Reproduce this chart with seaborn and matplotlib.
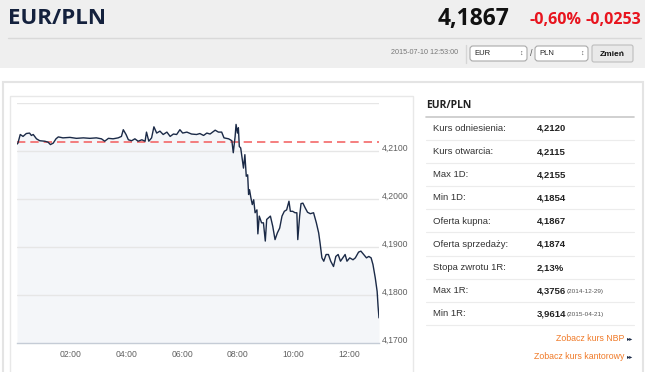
import pandas as pd
import matplotlib
matplotlib.use("Agg")
import matplotlib.pyplot as plt
import matplotlib.transforms as mtrans
from matplotlib.patches import Rectangle, FancyBboxPatch
import seaborn as sns

# intraday EUR/PLN quotes
times = ["00:04", "00:06", "00:11", "00:17", "00:24", "00:31", "00:35", "00:39", "00:46", "00:53",
         "01:04", "01:11", "01:16", "01:22", "01:28", "01:33", "01:43", "01:58", "02:12", "02:27",
         "02:41", "02:55", "03:06", "03:13", "03:21", "03:31", "03:42", "03:49", "03:53", "03:59",
         "04:04", "04:11", "04:18", "04:25", "04:33", "04:40", "04:43", "04:48", "04:54", "04:59",
         "05:05", "05:12", "05:19", "05:27", "05:34", "05:41", "05:48", "05:55", "06:01", "06:10",
         "06:20", "06:31", "06:38", "06:46", "06:53", "07:00", "07:11", "07:18", "07:25", "07:30",
         "07:40", "07:47", "07:50", "07:54", "07:56", "07:59", "08:01", "08:03", "08:06", "08:08",
         "08:12", "08:15", "08:18", "08:21", "08:23", "08:25", "08:28", "08:31", "08:34", "08:37",
         "08:41", "08:43", "08:46", "08:51", "08:55", "08:59", "09:02", "09:10", "09:15", "09:20",
         "09:25", "09:30", "09:35", "09:40", "09:45", "09:50", "09:53", "09:58", "10:03", "10:07",
         "10:09", "10:13", "10:16", "10:20", "10:25", "10:30", "10:36", "10:43", "10:49", "10:54",
         "10:57", "11:01", "11:05", "11:10", "11:15", "11:20", "11:26", "11:31", "11:36", "11:41",
         "11:46", "11:51", "11:55", "12:01", "12:08", "12:13", "12:20", "12:25", "12:31", "12:37",
         "12:42", "12:47", "12:51", "12:56", "13:00", "13:02", "13:04"]
rates = [4.2115, 4.2117, 4.2135, 4.2131, 4.2137, 4.2138, 4.2133, 4.2135, 4.2126, 4.2122,
         4.2121, 4.2119, 4.2114, 4.2117, 4.2126, 4.2130, 4.2128, 4.2129, 4.2127, 4.2128,
         4.2127, 4.2128, 4.2126, 4.2121, 4.2127, 4.2126, 4.2128, 4.2131, 4.2145, 4.2135,
         4.2124, 4.2122, 4.2126, 4.2121, 4.2124, 4.2121, 4.2140, 4.2121, 4.2128, 4.2151,
         4.2138, 4.2142, 4.2135, 4.2140, 4.2131, 4.2136, 4.2135, 4.2145, 4.2138, 4.2140,
         4.2136, 4.2135, 4.2137, 4.2133, 4.2138, 4.2136, 4.2144, 4.2140, 4.2140, 4.2128,
         4.2126, 4.2122, 4.2097, 4.2131, 4.2156, 4.2138, 4.2149, 4.2110, 4.2107, 4.2093,
         4.2065, 4.2093, 4.2048, 4.2051, 4.2010, 4.2020, 4.2003, 4.1989, 4.1999, 4.1972,
         4.1978, 4.1928, 4.1965, 4.1951, 4.1951, 4.1913, 4.1958, 4.1965, 4.1944, 4.1916,
         4.1930, 4.1940, 4.1965, 4.1975, 4.1978, 4.1996, 4.1975, 4.1975, 4.1972, 4.1972,
         4.1916, 4.1965, 4.1991, 4.1992, 4.1982, 4.1973, 4.1970, 4.1972, 4.1951, 4.1930,
         4.1909, 4.1878, 4.1871, 4.1885, 4.1885, 4.1871, 4.1860, 4.1881, 4.1885, 4.1871,
         4.1878, 4.1885, 4.1871, 4.1878, 4.1874, 4.1878, 4.1890, 4.1892, 4.1885, 4.1878,
         4.1881, 4.1878, 4.1864, 4.1836, 4.1808, 4.1777, 4.1753]
ref_rate = 4.2120

y_ticks = [4.17, 4.18, 4.19, 4.20, 4.21, 4.22]
y_labels = ["4,1700", "4,1800", "4,1900", "4,2000", "4,2100", ""]
x_ticks = [2, 4, 6, 8, 10, 12]
x_labels = ["02:00", "04:00", "06:00", "08:00", "10:00", "12:00"]

row_names = ["Kurs odniesienia:", "Kurs otwarcia:", "Max 1D:", "Min 1D:", "Oferta kupna:",
             "Oferta sprzedaży:", "Stopa zwrotu 1R:", "Max 1R:", "Min 1R:"]
row_values = ["4,2120", "4,2115", "4,2155", "4,1854", "4,1867", "4,1874", "2,13%", "4,3756", "3,9614"]
row_dates = ["", "", "", "", "", "", "", "(2014-12-29)", "(2015-04-21)"]

df = pd.DataFrame({"time": times, "rate": rates})
t = pd.to_datetime(df["time"], format="%H:%M")
df["hour"] = t.dt.hour + t.dt.minute / 60

sns.set_style("white")
plt.rcParams["font.family"] = ["Liberation Sans", "DejaVu Sans"]

fig = plt.figure(figsize=(6.45, 3.72), dpi=100)
fig.patch.set_facecolor("white")

# page layer in pixel coordinates
bg = fig.add_axes([0, 0, 1, 1])
bg.set_xlim(0, 645)
bg.set_ylim(372, 0)
bg.axis("off")

bg.add_patch(Rectangle((0, 0), 645, 68, color="#efefef", lw=0))
bg.plot([8, 641], [38, 38], color="#d9d9d9", lw=1)
bg.text(8, 19, "EUR/PLN", fontsize=16, fontweight="bold", color="#14213d",
        family="Open Sans", va="center", ha="left")
bg.text(509, 19, "4,1867", fontsize=16.5, fontweight="bold", color="#111111",
        family="Open Sans", va="center", ha="right")
bg.text(581, 20, "-0,60%", fontsize=11.5, fontweight="bold", color="#e8141e",
        family="Open Sans", va="center", ha="right")
bg.text(641, 20, "-0,0253", fontsize=11.5, fontweight="bold", color="#e8141e",
        family="Open Sans", va="center", ha="right")

bg.text(458, 53, "2015-07-10 12:53:00", fontsize=5.2, color="#777777", va="center", ha="right")
bg.plot([466, 466], [45, 63], color="#d6d6d6", lw=1)
for x0, w, label in [(470, 57, "EUR"), (535, 53, "PLN")]:
    bg.add_patch(FancyBboxPatch((x0, 46), w, 15, boxstyle="round,pad=0,rounding_size=3",
                                fc="white", ec="#a9a9a9", lw=0.8))
    bg.text(x0 + 4, 53.5, label, fontsize=5.5, color="#222222", va="center")
    bg.text(x0 + w - 6, 53.5, "↕", fontsize=5, color="#555555", va="center", ha="center")
bg.text(531, 54, "/", fontsize=6.5, color="#555555", va="center", ha="center")
bg.add_patch(FancyBboxPatch((592, 45), 41, 17, boxstyle="round,pad=0,rounding_size=2",
                            fc="#e9e9e9", ec="#bdbdbd", lw=0.8))
bg.text(612.5, 54, "Zmień", fontsize=6, fontweight="bold", color="#111111", va="center", ha="center")

# panel frames
bg.add_patch(Rectangle((2.5, 82), 640, 300, fc="white", ec="#e4e4e4", lw=1.5))
bg.add_patch(Rectangle((10, 95.5), 402.5, 290, fc="white", ec="#e8e8e8", lw=1))

# right-hand table
bg.text(426, 105, "EUR/PLN", fontsize=7.5, fontweight="bold", color="#222222",
        family="Open Sans", va="center")
bg.plot([426, 634], [117, 117], color="#c8c8c8", lw=1.2)
for i, (name, val, date) in enumerate(zip(row_names, row_values, row_dates)):
    yc = 128.3 + i * 23.2
    bg.text(433, yc, name, fontsize=6.8, color="#333333", va="center")
    bg.text(537, yc, val, fontsize=6.8, fontweight="bold", color="#222222", va="center")
    if date:
        bg.text(567, yc + 0.5, date, fontsize=4.6, color="#555555", va="center")
    bg.plot([426, 634], [yc + 11.3, yc + 11.3], color="#ececec", lw=0.8)
bg.text(624, 338.5, "Zobacz kurs NBP", fontsize=6.3, color="#f07a28", va="center", ha="right")
bg.text(633, 338.5, "▸▸", fontsize=4.5, color="#1b2a47", va="center", ha="right")
bg.text(624, 356.5, "Zobacz kurs kantorowy", fontsize=6.3, color="#f07a28", va="center", ha="right")
bg.text(633, 356.5, "▸▸", fontsize=4.5, color="#1b2a47", va="center", ha="right")

# chart
ax = fig.add_axes([17 / 645, 28.7 / 372, 362 / 645, 240 / 372])
ax.set_facecolor("white")
ax.fill_between(df["hour"], df["rate"], 4.17, color="#f4f6f9", lw=0, zorder=1)
for yv in y_ticks[1:]:
    ax.axhline(yv, color="#e6e6e6", lw=1, zorder=2)
ax.axhline(ref_rate, color="#f36868", lw=1.2, ls=(0, (5, 3)), zorder=3)
sns.lineplot(data=df, x="hour", y="rate", ax=ax, color="#1b2a47", lw=1.0, zorder=4)

ax.set_xlim(df["hour"].iloc[0], df["hour"].iloc[-1])
ax.set_ylim(4.17, 4.22)
ax.set_yticks(y_ticks)
ax.set_yticklabels(y_labels)
ax.set_xticks(x_ticks)
ax.set_xticklabels(x_labels)
ax.yaxis.tick_right()
ax.tick_params(axis="y", length=0, pad=2, labelsize=6.2, labelcolor="#606060")
ax.tick_params(axis="x", length=0, pad=5, labelsize=6.2, labelcolor="#606060")
shift = mtrans.ScaledTranslation(0, 0.04, fig.dpi_scale_trans)
for lab in ax.get_yticklabels():
    lab.set_transform(lab.get_transform() + shift)
ax.set_xlabel("")
ax.set_ylabel("")
for side in ["top", "left", "right"]:
    ax.spines[side].set_visible(False)
ax.spines["bottom"].set_color("#c5ccd6")
ax.spines["bottom"].set_linewidth(1)

fig.savefig("out.png", dpi=100)
